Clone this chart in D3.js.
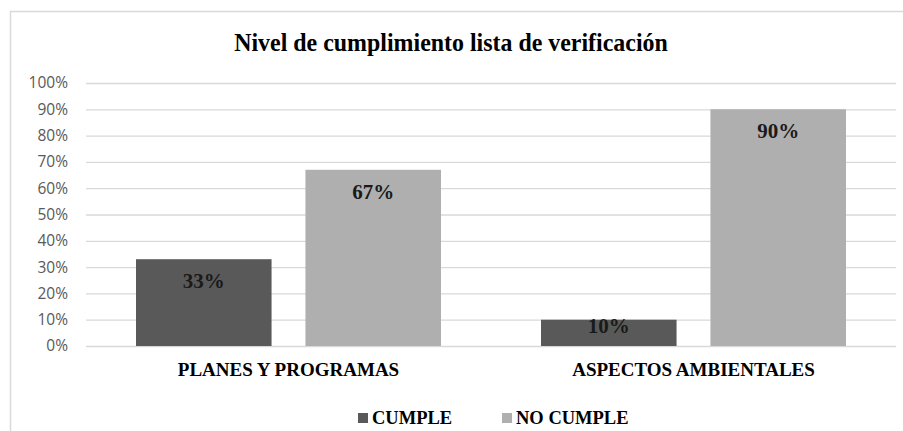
<!DOCTYPE html>
<html>
<head>
<meta charset="utf-8">
<script src="https://cdn.jsdelivr.net/npm/d3@7"></script>
<style>
  body { margin: 0; background: #fff; }
  svg { display: block; }
  .serif { font-family: "Liberation Serif", Tinos, "Times New Roman", serif; font-weight: bold; }
</style>
</head>
<body>
<div id="chart"></div>
<script>
// data
const categories = ['PLANES Y PROGRAMAS', 'ASPECTOS AMBIENTALES'];
const seriesNames = ['CUMPLE', 'NO CUMPLE'];
const cumple = [0.33, 0.10];
const noCumple = [0.67, 0.90];
const yTicks = [0, 0.1, 0.2, 0.3, 0.4, 0.5, 0.6, 0.7, 0.8, 0.9, 1.0];

var drawChart = function() {
	'use strict';
	const width = 903;
	const height = 431;
	const colors = ['#595959', '#afafaf'];
	const margin = { top: 83, right: 7, bottom: 85, left: 86 };
	const innerW = width - margin.left - margin.right;
	const innerH = height - margin.top - margin.bottom;

	const svg = d3.select('#chart').append('svg')
		.attr('width', width)
		.attr('height', height);

	// outer chart border (runs off the right and bottom)
	svg.append('rect')
		.attr('x', 10.5).attr('y', 11.5)
		.attr('width', 900).attr('height', 430)
		.attr('fill', 'none')
		.attr('stroke', '#d9d9d9')
		.attr('stroke-width', 1.5);

	// title, a little condensed like the original
	svg.append('text')
		.attr('class', 'serif')
		.attr('transform', 'translate(451,51) scale(0.92,1)')
		.attr('text-anchor', 'middle')
		.style('font-size', '26px')
		.attr('fill', '#000')
		.text('Nivel de cumplimiento lista de verificación');

	const g = svg.append('g')
		.attr('transform', 'translate(' + margin.left + ',' + margin.top + ')');

	const x0 = d3.scaleBand().domain(categories).range([0, innerW]).paddingInner(0).paddingOuter(0);
	const x1 = d3.scaleBand().domain(seriesNames).range([50, x0.bandwidth() - 50]).paddingInner(0.2);
	const y = d3.scaleLinear().domain([0, 1]).range([innerH, 0]);

	// gridlines + y labels
	const yAxis = d3.axisLeft(y)
		.tickValues(yTicks)
		.tickSize(-innerW)
		.tickPadding(18)
		.tickFormat(d3.format('.0%'));
	const ya = g.append('g').call(yAxis);
	ya.select('.domain').remove();
	ya.selectAll('.tick line').attr('stroke', '#d9d9d9').attr('stroke-width', 1.3);
	ya.selectAll('.tick text')
		.attr('fill', '#595959')
		.style('font-family', '"Open Sans", Lato, sans-serif')
		.style('font-size', '15.5px');

	const rows = categories.map(function(c, i) {
		return [
			{ cat: c, name: seriesNames[0], value: cumple[i], color: colors[0] },
			{ cat: c, name: seriesNames[1], value: noCumple[i], color: colors[1] }
		];
	});

	const groups = g.selectAll('.cat').data(rows).enter().append('g')
		.attr('class', 'cat')
		.attr('transform', function(d, i) { return 'translate(' + x0(categories[i]) + ',0)'; });

	groups.selectAll('rect').data(function(d) { return d; }).enter().append('rect')
		.attr('x', function(d) { return x1(d.name); })
		.attr('y', function(d) { return y(d.value); })
		.attr('width', x1.bandwidth())
		.attr('height', function(d) { return innerH - y(d.value); })
		.attr('fill', function(d) { return d.color; });

	// value labels near the top inside each bar
	groups.selectAll('.lbl').data(function(d) { return d; }).enter().append('text')
		.attr('class', 'lbl serif')
		.attr('x', function(d) { return x1(d.name) + x1.bandwidth() / 2; })
		.attr('y', function(d) { return y(d.value) + Math.min(29, (innerH - y(d.value)) / 2); })
		.attr('text-anchor', 'middle')
		.style('font-size', '21px')
		.attr('fill', '#1a1a1a')
		.text(function(d) { return Math.round(d.value * 100) + '%'; });

	// category labels
	const xAxis = d3.axisBottom(x0).tickSize(0).tickPadding(16.5);
	const xa = g.append('g').attr('transform', 'translate(0,' + innerH + ')').call(xAxis);
	xa.select('.domain').remove();
	xa.attr('font-family', null);
	xa.selectAll('.tick text')
		.attr('class', 'serif')
		.attr('fill', '#000')
		.style('font-size', '19px');

	// legend
	const legend = svg.append('g').attr('transform', 'translate(358,424)');
	const legendX = [0, 144];
	seriesNames.forEach(function(n, i) {
		legend.append('rect')
			.attr('x', legendX[i]).attr('y', -11)
			.attr('width', 10).attr('height', 10)
			.attr('fill', colors[i]);
		legend.append('text')
			.attr('class', 'serif')
			.attr('x', legendX[i] + 14).attr('y', 0)
			.style('font-size', '18.5px')
			.attr('fill', '#000')
			.text(n);
	});
};

drawChart();
</script>
</body>
</html>
